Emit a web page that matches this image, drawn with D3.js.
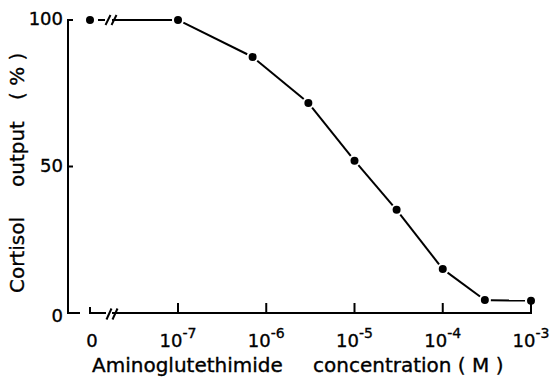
<!DOCTYPE html>
<html>
<head>
<meta charset="utf-8">
<script src="https://cdn.jsdelivr.net/npm/d3@7/dist/d3.min.js"></script>
<style>
body { margin: 0; background: #fff; }
text { font-family: "DejaVu Sans", sans-serif; fill: #000; stroke: #000; stroke-width: 0.35; }
</style>
</head>
<body>
<svg width="553" height="378"></svg>
<script>
// data
const concentrations = [0, 1e-7, 7e-7, 3e-6, 1e-5, 3e-5, 1e-4, 3e-4, 1e-3];
const cortisolOutput = [100, 100, 87.4, 71.7, 52, 35.2, 15, 4.4, 4.2];
const xTickValues = [0, 1e-7, 1e-6, 1e-5, 1e-4, 1e-3];
const yTickValues = [0, 50, 100];
const xTitleWords = ["Aminoglutethimide", "concentration ( M )"];
const yTitleWords = ["Cortisol", "output", "( % )"];

const svg = d3.select("svg");
const axisY = 313;
const axisX = 68;
const zeroX = 90;

const yScale = d3.scaleLinear().domain([0, 100]).range([axisY, 20]);
const logScale = d3.scaleLog().domain([1e-7, 1e-3]).range([178, 531]);
const xPos = v => v === 0 ? zeroX : logScale(v);

const points = concentrations.map((c, i) => [xPos(c), yScale(cortisolOutput[i])]);

const ink = "#000";

// y axis
svg.append("path")
    .attr("d", `M${axisX + 5},${yScale(100)} H${axisX} V${axisY} H${axisX + 12}`)
    .attr("fill", "none")
    .attr("stroke", ink)
    .attr("stroke-width", 2);

svg.append("line")
    .attr("x1", axisX).attr("x2", axisX + 5)
    .attr("y1", yScale(50)).attr("y2", yScale(50))
    .attr("stroke", ink).attr("stroke-width", 2);

svg.selectAll(".ylab")
    .data(yTickValues)
    .join("text")
    .attr("class", "ylab")
    .attr("x", axisX - 5)
    .attr("y", d => yScale(d))
    .attr("dy", d => d === 0 ? "0.5em" : "0.3em")
    .attr("text-anchor", "end")
    .attr("font-size", 18)
    .text(d => d);

// x axis with break
function slashes(g, x, y, h) {
    [0, 6].forEach(off => {
        g.append("line")
            .attr("x1", x + off - 2.5).attr("y1", y + h / 2)
            .attr("x2", x + off + 2.5).attr("y2", y - h / 2)
            .attr("stroke", ink).attr("stroke-width", 2);
    });
}

const xAxis = svg.append("g");
xAxis.append("path")
    .attr("d", `M${zeroX},${axisY - 6} V${axisY} H${zeroX + 16}`)
    .attr("fill", "none").attr("stroke", ink).attr("stroke-width", 2);
xAxis.append("line")
    .attr("x1", zeroX + 22).attr("x2", logScale(1e-3) + 1)
    .attr("y1", axisY).attr("y2", axisY)
    .attr("stroke", ink).attr("stroke-width", 2);
slashes(xAxis, zeroX + 19, axisY + 1, 11);

xAxis.selectAll(".xtick")
    .data(xTickValues.filter(d => d > 0))
    .join("line")
    .attr("class", "xtick")
    .attr("x1", d => logScale(d)).attr("x2", d => logScale(d))
    .attr("y1", axisY).attr("y2", axisY - 10)
    .attr("stroke", ink).attr("stroke-width", 2);

const xLabels = xAxis.selectAll(".xlab")
    .data(xTickValues)
    .join("text")
    .attr("class", "xlab")
    .attr("x", d => d === 0 ? xPos(d) + 2 : xPos(d))
    .attr("y", 347)
    .attr("text-anchor", "middle")
    .attr("font-size", 18);

xLabels.filter(d => d === 0).text("0");
xLabels.filter(d => d > 0).each(function (d) {
    const t = d3.select(this);
    t.append("tspan").text("10");
    t.append("tspan")
        .attr("dy", -9)
        .attr("font-size", 14)
        .text("-" + Math.abs(Math.round(Math.log10(d))));
});

// axis titles
const xTitle = svg.append("text")
    .attr("y", 372)
    .attr("font-size", 20);
xTitle.append("tspan").attr("x", 92).text(xTitleWords[0]);
xTitle.append("tspan").attr("x", 313).text(xTitleWords[1]);

const yTitle = svg.append("text")
    .attr("transform", "translate(24,293) rotate(-90)")
    .attr("font-size", 20);
yTitle.append("tspan").attr("x", 0).text(yTitleWords[0]);
yTitle.append("tspan").attr("x", 106).text(yTitleWords[1]);
yTitle.append("tspan").attr("x", 193).text(yTitleWords[2]);

// data line, drawn as segments that stop short of the dots
const gap = 6;
const seg = svg.append("g")
    .attr("stroke", ink).attr("stroke-width", 2).attr("fill", "none");

d3.pairs(points).forEach(([a, b], i) => {
    const dx = b[0] - a[0], dy = b[1] - a[1];
    const len = Math.hypot(dx, dy);
    const ux = dx / len, uy = dy / len;
    if (i === 0) {
        // broken segment between zero and 10^-7
        const bx = a[0] + 18;
        seg.append("line")
            .attr("x1", a[0] + gap + 2).attr("y1", a[1])
            .attr("x2", bx - 3).attr("y2", a[1]);
        seg.append("line")
            .attr("x1", bx + 4).attr("y1", a[1])
            .attr("x2", b[0] - gap).attr("y2", b[1]);
        slashes(svg, bx, a[1], 10);
    } else {
        seg.append("line")
            .attr("x1", a[0] + ux * gap).attr("y1", a[1] + uy * gap)
            .attr("x2", b[0] - ux * gap).attr("y2", b[1] - uy * gap);
    }
});

svg.selectAll(".dot")
    .data(points)
    .join("circle")
    .attr("class", "dot")
    .attr("cx", d => d[0])
    .attr("cy", d => d[1])
    .attr("r", 4)
    .attr("fill", ink);
</script>
</body>
</html>
